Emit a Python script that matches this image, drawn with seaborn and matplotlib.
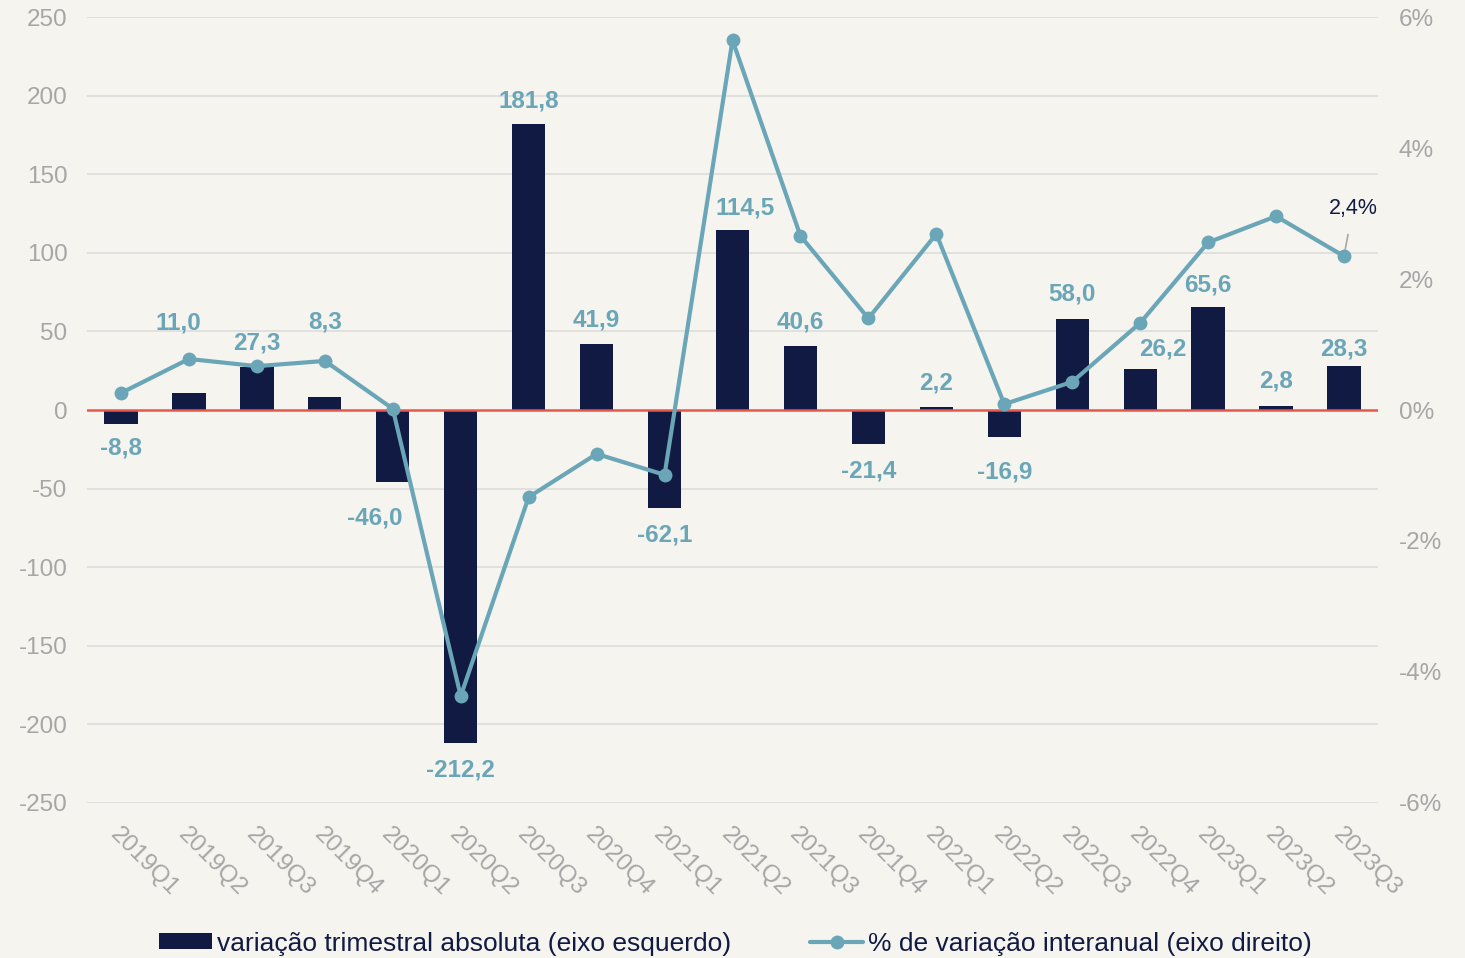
import numpy as np
import matplotlib
matplotlib.use("Agg")
import matplotlib.pyplot as plt
import seaborn as sns
from matplotlib.lines import Line2D
from matplotlib.patches import Patch

# data
quarters = ["2019Q1", "2019Q2", "2019Q3", "2019Q4", "2020Q1", "2020Q2", "2020Q3",
            "2020Q4", "2021Q1", "2021Q2", "2021Q3", "2021Q4", "2022Q1", "2022Q2",
            "2022Q3", "2022Q4", "2023Q1", "2023Q2", "2023Q3"]
abs_change = [-8.8, 11.0, 27.3, 8.3, -46.0, -212.2, 181.8, 41.9, -62.1, 114.5,
              40.6, -21.4, 2.2, -16.9, 58.0, 26.2, 65.6, 2.8, 28.3]
yoy_pct = [0.26, 0.78, 0.67, 0.75, 0.02, -4.37, -1.33, -0.67, -0.99, 5.65,
           2.66, 1.40, 2.69, 0.09, 0.43, 1.33, 2.56, 2.96, 2.35]
left_ticks = [-250, -200, -150, -100, -50, 0, 50, 100, 150, 200, 250]
right_ticks = [-6, -4, -2, 0, 2, 4, 6]
bar_label = "variação trimestral absoluta (eixo esquerdo)"
line_label = "% de variação interanual (eixo direito)"
last_label = "2,4%"

# label placement tweaks (x shift in categories, y offset in left-axis units)
label_dx = [0, -0.16, 0, 0, -0.27, 0, 0, 0, 0, 0.19, 0, 0, 0, 0, 0, 0.34, 0, 0, 0]
label_dy = [-15.4, 44.3, 15.3, 47.7, -22.7, -17, 15, 15.4, -17.4, 14, 15.4, -17.4,
            15, -22.5, 15.8, 12.6, 14, 15.6, 10.5]

BG = "#f5f4ef"
NAVY = "#111a42"
TEAL = "#6aa6b7"
GREY = "#a6a6a6"

sns.set_theme(style="white")
plt.rcParams["font.family"] = ["Liberation Sans", "DejaVu Sans"]

fig = plt.figure(figsize=(14.65, 9.58), dpi=100, facecolor=BG)
ax = fig.add_axes([0.0594, 0.162, 0.8812, 0.820])
ax.set_facecolor(BG)

x = np.arange(len(quarters))
sns.barplot(x=quarters, y=abs_change, color=NAVY, width=0.49, saturation=1,
            edgecolor="none", ax=ax, zorder=3)

ax.set_ylim(-250, 250)
ax.set_yticks(left_ticks)
ax.set_yticklabels([str(t) for t in left_ticks])
ax.set_xlim(-0.5, len(quarters) - 0.5)
for t in left_ticks:
    if t != 0:
        ax.axhline(t, color="#dcdcdc", lw=1.2, zorder=0)
ax.axhline(0, color="#e8574a", lw=1.8, zorder=4)

ax.tick_params(axis="y", colors=GREY, labelsize=17.5, length=0, pad=14)
ax.tick_params(axis="x", colors=GREY, labelsize=17.5, length=0, pad=15)
ax.set_xticks(x)
ax.set_xticklabels(quarters, rotation=-45, ha="left", rotation_mode="anchor")
ax.set_xlabel("")
ax.set_ylabel("")
for s in ax.spines.values():
    s.set_visible(False)

for i, v in enumerate(abs_change):
    txt = f"{v:.1f}".replace(".", ",")
    ax.text(i + label_dx[i], v + label_dy[i], txt, color=TEAL, fontsize=17.5,
            fontweight="bold", ha="center", va="center", zorder=6)

ax2 = ax.twinx()
sns.lineplot(x=x, y=yoy_pct, color=TEAL, lw=3, marker="o", markersize=10,
             markeredgewidth=0, ax=ax2, zorder=5)
ax2.set_ylim(-6, 6)
ax2.set_yticks(right_ticks)
ax2.set_yticklabels([f"{t}%" for t in right_ticks])
ax2.tick_params(axis="y", colors=GREY, labelsize=17.5, length=0, pad=15)
for s in ax2.spines.values():
    s.set_visible(False)
ax2.grid(False)

ax2.annotate(last_label, xy=(x[-1], yoy_pct[-1]), xytext=(x[-1] + 0.13, 3.08),
             color=NAVY, fontsize=15.5, ha="center", va="center",
             arrowprops=dict(arrowstyle="-", color=GREY, lw=1.2, shrinkA=9, shrinkB=0))

handles = [Patch(facecolor=NAVY, edgecolor="none", label=bar_label),
           Line2D([0], [0], color=TEAL, lw=3, marker="o", markersize=10,
                  markeredgewidth=0, label=line_label)]
leg = fig.legend(handles=handles, loc="center", bbox_to_anchor=(0.502, 0.015), ncol=2,
                 frameon=False, fontsize=19, handlelength=2, handleheight=0.55,
                 handletextpad=0.2, columnspacing=3.0)
for t in leg.get_texts():
    t.set_color(NAVY)

fig.savefig("out.png", dpi=100, facecolor=BG)
